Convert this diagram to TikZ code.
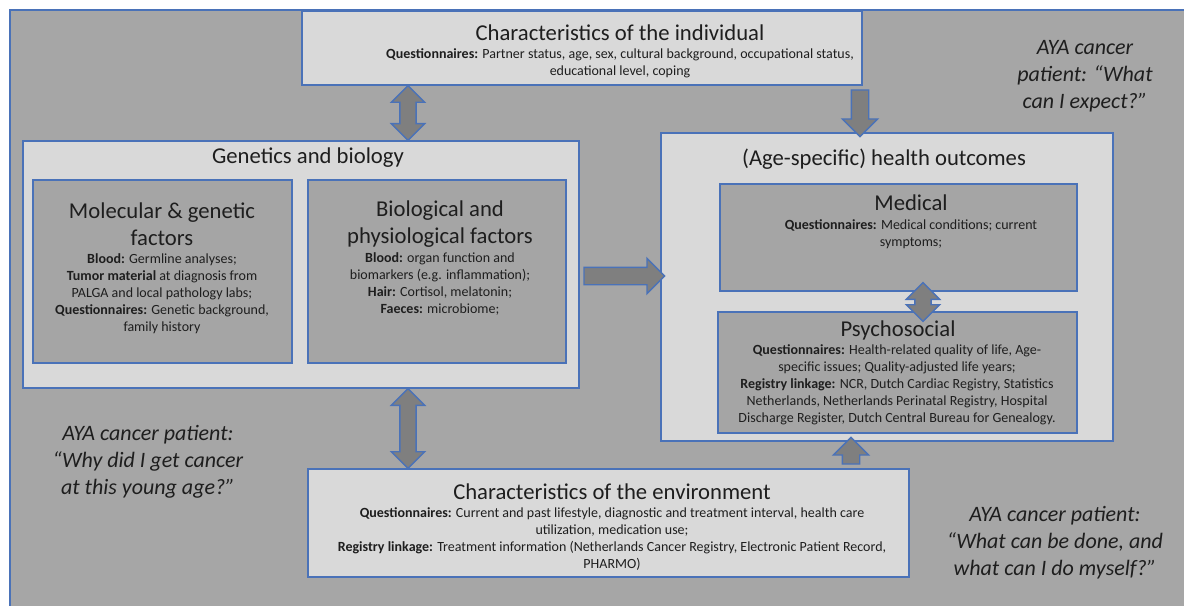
\documentclass[tikz,border=0pt]{standalone}
\usepackage{fontspec}
\setmainfont{Carlito}
\usepackage{tikz}
\usetikzlibrary{shapes.arrows,calc,fit}
\definecolor{bgGray}{HTML}{A6A6A6}
\definecolor{panelGray}{HTML}{D9D9D9}
\definecolor{subGray}{HTML}{A5A5A5}
\definecolor{frameBlue}{HTML}{4A72B8}
\definecolor{arrowGray}{HTML}{7F7F7F}
\definecolor{inkGray}{HTML}{1E1E1E}
\tikzstyle{panel} = [draw=frameBlue, fill=panelGray, line width=1pt, inner sep=0pt]
\tikzstyle{subpanel} = [panel, fill=subGray]
\tikzstyle{headtext} = [font=\fontsize{17}{20.25}\selectfont, align=center, text=inkGray, inner sep=0pt]
\tikzstyle{bodytext} = [font=\fontsize{10.5}{12.75}\selectfont, align=center, text=inkGray, inner sep=0pt]
\tikzstyle{quotetext} = [font=\fontsize{16.5}{20.25}\selectfont\itshape, align=center, text=inkGray, inner sep=0pt]
\tikzstyle{fatarrow} = [single arrow, draw=frameBlue, fill=arrowGray, line width=1pt, inner xsep=0pt, inner ysep=6pt, single arrow head extend=6.75pt, single arrow tip angle=90, single arrow head indent=0pt]
\tikzstyle{fatdouble} = [double arrow, draw=frameBlue, fill=arrowGray, line width=1pt, inner xsep=0pt, inner ysep=5.6pt, double arrow head extend=6.4pt, double arrow tip angle=90, double arrow head indent=0pt]
\newcommand{\blockarrow}[3]{%
  \path let \p1=(#2), \p2=(#3), \n1={veclen(\x2-\x1,\y2-\y1)}, \n2={atan2(\y2-\y1,\x2-\x1)} in
    node[#1, minimum height=\n1, rotate=\n2] at ($(\p1)!0.5!(\p2)$) {};}

\begin{document}
\begin{tikzpicture}[x=0.75pt,y=-0.75pt]
        \fill[white] (0,0) rectangle (1184,606);
        \useasboundingbox (0,0) rectangle (1184,606);
        \filldraw[fill=bgGray, draw=frameBlue, line width=0.8pt] (10,10) rectangle (1200,620);

        \node[panel, fit={(302,11) (862,85)}] (indiv) {};
        \node[panel, fit={(23,141) (579,388)}] (genbio) {};
        \node[subpanel, fit={(33,180) (292,363)}] (molgen) {};
        \node[subpanel, fit={(308,180) (566,363)}] (biophys) {};
        \node[panel, fit={(661,133) (1113,441)}] (health) {};
        \node[subpanel, fit={(720,184) (1077,291)}] (medical) {};
        \node[subpanel, fit={(718,312) (1077,433)}] (psycho) {};
        \node[panel, fit={(308,469) (909,577)}] (environ) {};

        \node[headtext] at (620,33) (indivTitle) {Characteristics of the individual};
        \node[bodytext] at (620,63.5) (indivText) {\textbf{Questionnaires:} Partner status, age, sex, cultural background, occupational status,\\educational level, coping};

        \node[headtext] at (308,158) (genbioTitle) {Genetics and biology};
        \node[headtext] at (162,224) (molgenTitle) {Molecular \& genetic\\factors};
        \node[bodytext] at (162,294) (molgenText) {\textbf{Blood:} Germline analyses;\\\textbf{Tumor material} at diagnosis from\\PALGA and local pathology labs;\\\textbf{Questionnaires:} Genetic background,\\family history};
        \node[headtext] at (440,224) (biophysTitle) {Biological and\\physiological factors};
        \node[bodytext] at (440,284) (biophysText) {\textbf{Blood:} organ function and\\biomarkers (e.g. inflammation);\\\textbf{Hair:} Cortisol, melatonin;\\\textbf{Faeces:} microbiome;};

        \node[headtext] at (884,159) (healthTitle) {(Age-specific) health outcomes};
        \node[headtext] at (911,203) (medicalTitle) {Medical};
        \node[bodytext] at (911,234) (medicalText) {\textbf{Questionnaires:} Medical conditions; current\\symptoms;};
        \node[headtext] at (898,330) (psychoTitle) {Psychosocial};
        \node[bodytext] at (897,385) (psychoText) {\textbf{Questionnaires:} Health-related quality of life, Age-\\specific issues; Quality-adjusted life years;\\\textbf{Registry linkage:} NCR, Dutch Cardiac Registry, Statistics\\Netherlands, Netherlands Perinatal Registry, Hospital\\Discharge Register, Dutch Central Bureau for Genealogy.};

        \node[headtext] at (612,492) (environTitle) {Characteristics of the environment};
        \node[bodytext] at (612,539) (environText) {\textbf{Questionnaires:} Current and past lifestyle, diagnostic and treatment interval, health care\\utilization, medication use;\\\textbf{Registry linkage:} Treatment information (Netherlands Cancer Registry, Electronic Patient Record,\\PHARMO)};

        \node[quotetext] at (148,462) (whyQuote) {AYA cancer patient:\\“Why did I get cancer\\at this young age?”};
        \node[quotetext] at (1085,76) (expectQuote) {AYA cancer\\patient: “What\\can I expect?”};
        \node[quotetext] at (1055,543) (doneQuote) {AYA cancer patient:\\“What can be done, and\\what can I do myself?”};

        \coordinate (leftAxis) at (408,0);
        \coordinate (downAxis) at (860,0);
        \coordinate (upAxis) at (851,0);
        \coordinate (midAxis) at (923,0);
        \coordinate (sideAxis) at (0,276);

        \blockarrow{fatdouble}{indiv.south -| leftAxis}{genbio.north -| leftAxis}
        \blockarrow{fatdouble}{genbio.south -| leftAxis}{environ.north -| leftAxis}
        \blockarrow{fatdouble}{$(medical.south -| midAxis)+(0,-9)$}{$(psycho.north -| midAxis)+(0,10)$}
        \blockarrow{fatarrow}{indiv.south -| downAxis}{health.north -| downAxis}
        \blockarrow{fatarrow}{environ.north -| upAxis}{health.south -| upAxis}
        \blockarrow{fatarrow}{genbio.east |- sideAxis}{health.west |- sideAxis}
\end{tikzpicture}
\end{document}
